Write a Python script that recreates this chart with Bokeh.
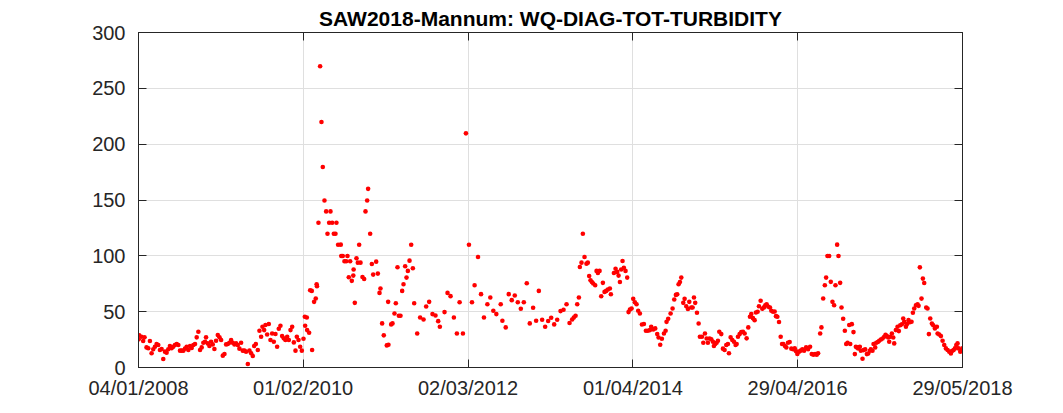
from datetime import datetime

import pandas as pd
from bokeh.plotting import figure, ColumnDataSource
from bokeh.models import Range1d, FixedTicker, DatetimeTickFormatter, DatetimeAxis, LinearAxis
from bokeh.embed import file_html
from bokeh.resources import INLINE

# sample times as decimal years, turbidity in NTU
sample_year = [
    # 2008 - early 2010
    2008.010, 2008.017, 2008.046, 2008.067, 2008.084, 2008.109, 2008.131, 2008.152, 2008.173, 2008.194,
    2008.215, 2008.236, 2008.257, 2008.278, 2008.299, 2008.320, 2008.341, 2008.362, 2008.383, 2008.404,
    2008.425, 2008.446, 2008.467, 2008.489, 2008.510, 2008.531, 2008.552, 2008.573, 2008.594, 2008.615,
    2008.636, 2008.657, 2008.678, 2008.699, 2008.720, 2008.741, 2008.762, 2008.783, 2008.804, 2008.825,
    2008.846, 2008.859, 2008.880, 2008.901, 2008.922, 2008.943, 2008.964, 2008.985, 2009.007, 2009.028,
    2009.049, 2009.070, 2009.091, 2009.112, 2009.133, 2009.154, 2009.175, 2009.196, 2009.217, 2009.238,
    2009.259, 2009.280, 2009.301, 2009.322, 2009.343, 2009.364, 2009.386, 2009.407, 2009.428, 2009.449,
    2009.466, 2009.487, 2009.512, 2009.533, 2009.554, 2009.571, 2009.592, 2009.609, 2009.630, 2009.651,
    2009.672, 2009.693, 2009.714, 2009.735, 2009.756, 2009.777, 2009.798, 2009.819, 2009.840, 2009.861,
    2009.883, 2009.904, 2009.925, 2009.946, 2009.967, 2009.988, 2010.005, 2010.026, 2010.047, 2010.068,
    2010.089, 2010.106, 2010.110, 2010.131, 2010.135, 2010.160, 2010.173,
    # 2010 - 2011 flood
    2010.194, 2010.198, 2010.223, 2010.244, 2010.255, 2010.259, 2010.278, 2010.299, 2010.316, 2010.333,
    2010.354, 2010.375, 2010.392, 2010.413, 2010.430, 2010.451, 2010.472, 2010.493, 2010.505, 2010.526,
    2010.560, 2010.566, 2010.585, 2010.606, 2010.628, 2010.644, 2010.661, 2010.678, 2010.699, 2010.718,
    2010.722, 2010.737, 2010.758, 2010.775, 2010.792, 2010.809, 2010.834, 2010.855, 2010.872, 2010.893,
    2010.905, 2010.931, 2010.952, 2010.969, 2011.007, 2011.028, 2011.049, 2011.061, 2011.082, 2011.103,
    2011.141, 2011.158, 2011.162, 2011.196, 2011.213, 2011.238, 2011.255, 2011.276, 2011.293, 2011.314,
    2011.335, 2011.352, 2011.373, 2011.390, 2011.407, 2011.428, 2011.449, 2011.470, 2011.487, 2011.525,
    2011.562, 2011.605, 2011.638, 2011.676, 2011.718, 2011.756, 2011.790, 2011.811,
    # late 2011 - mid 2013
    2011.870, 2011.908, 2011.946, 2011.988, 2012.026, 2012.060, 2012.102, 2012.140, 2012.178, 2012.216,
    2012.249, 2012.292, 2012.330, 2012.367, 2012.410, 2012.447, 2012.485, 2012.523, 2012.578, 2012.599,
    2012.641, 2012.679, 2012.717, 2012.755, 2012.793, 2012.831, 2012.869, 2012.906, 2012.944, 2012.986,
    2013.024, 2013.058, 2013.100, 2013.138, 2013.176, 2013.214, 2013.252, 2013.290, 2013.332, 2013.370,
    2013.408, 2013.446,
    # mid 2013 - early 2015
    2013.479, 2013.500, 2013.522, 2013.543, 2013.564, 2013.576, 2013.597, 2013.614, 2013.635, 2013.660,
    2013.677, 2013.694, 2013.711, 2013.728, 2013.745, 2013.770, 2013.787, 2013.804, 2013.825, 2013.846,
    2013.867, 2013.888, 2013.909, 2013.930, 2013.955, 2013.968, 2014.006, 2014.027, 2014.048, 2014.065,
    2014.082, 2014.098, 2014.115, 2014.132, 2014.153, 2014.174, 2014.191, 2014.208, 2014.229, 2014.250,
    2014.271, 2014.292, 2014.313, 2014.334, 2014.360, 2014.385, 2014.410, 2014.435, 2014.461, 2014.477,
    2014.503, 2014.528, 2014.553, 2014.570, 2014.591, 2014.612, 2014.638, 2014.659, 2014.671, 2014.692,
    2014.722, 2014.747, 2014.768, 2014.789, 2014.806, 2014.823, 2014.840, 2014.857, 2014.882, 2014.899,
    2014.920, 2014.941, 2014.958, 2014.983, 2015.000, 2015.017, 2015.033, 2015.055, 2015.076, 2015.092,
    2015.118, 2015.135, 2015.156, 2015.177, 2015.193, 2015.215,
    # 2015 - 2016
    2015.236, 2015.257, 2015.269, 2015.286, 2015.303, 2015.320, 2015.337, 2015.362, 2015.383, 2015.404,
    2015.425, 2015.446, 2015.459, 2015.480, 2015.501, 2015.522, 2015.543, 2015.556, 2015.573, 2015.594,
    2015.615, 2015.636, 2015.657, 2015.682, 2015.703, 2015.724, 2015.741, 2015.762, 2015.783, 2015.800,
    2015.821, 2015.838, 2015.859, 2015.880, 2015.901, 2015.918, 2015.935, 2015.956, 2015.977, 2015.994,
    2016.015, 2016.036, 2016.053, 2016.070, 2016.091, 2016.112, 2016.129, 2016.145, 2016.166, 2016.183,
    2016.204, 2016.225, 2016.246, 2016.268, 2016.289, 2016.305, 2016.322, 2016.343, 2016.364, 2016.385,
    2016.407, 2016.432, 2016.457, 2016.482, 2016.503, 2016.524, 2016.545, 2016.566, 2016.583, 2016.609,
    2016.625, 2016.647, 2016.668, 2016.684, 2016.701, 2016.722, 2016.743, 2016.764, 2016.785, 2016.802,
    2016.823, 2016.840, 2016.861, 2016.878, 2016.899, 2016.920, 2016.937, 2016.954, 2016.975, 2016.988,
    # 2017 - 2018
    2017.008, 2017.029, 2017.046, 2017.059, 2017.072, 2017.088, 2017.109, 2017.122, 2017.143, 2017.156,
    2017.177, 2017.198, 2017.215, 2017.236, 2017.248, 2017.269, 2017.282, 2017.303, 2017.316, 2017.337,
    2017.354, 2017.375, 2017.396, 2017.417, 2017.434, 2017.451, 2017.467, 2017.480, 2017.493, 2017.514,
    2017.531, 2017.543, 2017.564, 2017.585, 2017.602, 2017.619, 2017.640, 2017.657, 2017.670, 2017.691,
    2017.703, 2017.724, 2017.741, 2017.762, 2017.779, 2017.796, 2017.817, 2017.838, 2017.851, 2017.867,
    2017.888, 2017.905, 2017.922, 2017.947, 2017.964, 2017.981, 2017.998, 2018.019, 2018.036, 2018.057,
    2018.082, 2018.091, 2018.112, 2018.133, 2018.154, 2018.175, 2018.196, 2018.217, 2018.238, 2018.259,
    2018.272, 2018.293, 2018.310, 2018.327, 2018.343, 2018.356, 2018.377, 2018.398, 2018.404,
]

turbidity = [
    # 2008 - early 2010
    25.2, 28.8, 27.6, 23.7, 27.0, 18.0, 17.2, 23.7, 12.7, 16.3,
    18.6, 21.0, 20.1, 15.7, 16.6, 7.6, 14.2, 13.3, 16.3, 19.2,
    17.2, 18.6, 20.1, 21.0, 20.1, 15.1, 15.1, 15.1, 16.9, 18.6,
    15.7, 19.2, 17.5, 20.1, 21.0, 27.0, 32.0, 15.7, 18.0, 22.2,
    23.1, 27.0, 21.6, 19.2, 23.1, 20.7, 16.6, 24.0, 29.1, 27.0,
    24.6, 10.6, 12.1, 20.7, 21.0, 22.2, 24.6, 22.2, 20.7, 21.6,
    20.1, 16.9, 22.2, 15.1, 15.1, 14.2, 3.2, 15.1, 12.7, 10.3,
    19.2, 21.0, 15.7, 32.9, 27.6, 36.5, 33.5, 38.0, 29.6, 38.9,
    24.6, 30.5, 23.1, 30.0, 18.6, 34.7, 37.4, 28.2, 26.1, 24.6,
    27.6, 24.6, 33.5, 36.5, 22.5, 15.1, 27.6, 24.6, 18.6, 15.1,
    25.8, 45.4, 37.4, 44.8, 33.5, 31.1, 69.2,
    # 2010 - 2011 flood
    68.6, 15.7, 58.8, 61.8, 74.6, 72.8, 129.6, 269.8, 219.8, 179.6,
    149.6, 139.8, 119.8, 129.6, 139.8, 129.6, 119.8, 119.8, 129.6, 110.0,
    110.0, 99.9, 99.9, 95.1, 95.1, 99.9, 80.8, 95.1, 77.6, 82.3,
    87.7, 57.9, 97.8, 93.9, 110.0, 93.9, 81.1, 79.3, 139.8, 149.6,
    160.0, 119.8, 92.7, 83.2, 94.8, 84.1, 66.8, 70.7, 39.5, 28.8,
    19.8, 58.8, 20.4, 38.6, 39.5, 48.4, 57.6, 89.8, 46.3, 46.3,
    68.6, 74.6, 90.6, 80.5, 86.5, 95.7, 110.0, 88.9, 57.6, 30.5,
    44.8, 43.0, 54.6, 58.8, 47.8, 46.6, 41.5, 36.5,
    # late 2011 - mid 2013
    49.6, 66.8, 63.9, 44.8, 30.5, 58.5, 30.5, 209.7, 110.0, 58.5,
    73.7, 99.0, 65.7, 44.8, 56.7, 62.7, 50.8, 47.8, 56.7, 41.8,
    35.9, 65.7, 60.3, 64.5, 58.5, 52.6, 58.5, 75.5, 39.5, 53.5,
    41.8, 68.6, 42.7, 36.5, 41.6, 44.5, 38.6, 42.7, 50.5, 51.7,
    56.7, 39.8,
    # mid 2013 - early 2015
    43.0, 44.8, 46.3, 56.7, 62.7, 90.0, 93.9, 119.8, 99.0, 93.0,
    93.9, 82.0, 78.1, 76.6, 75.2, 73.7, 86.5, 84.7, 86.5, 63.8,
    75.8, 67.7, 68.6, 69.8, 70.7, 65.6, 84.7, 88.5, 85.6, 82.3,
    76.6, 87.7, 95.4, 89.4, 86.5, 80.5, 49.6, 51.9, 52.8, 61.5,
    58.5, 56.7, 50.8, 48.4, 38.5, 38.9, 32.9, 32.9, 33.5, 36.5,
    34.1, 35.0, 29.9, 26.9, 20.4, 25.7, 30.5, 32.9, 40.9, 43.6,
    48.4, 52.8, 60.9, 65.0, 65.6, 74.6, 76.6, 80.5, 57.9, 61.5,
    54.9, 52.5, 58.8, 53.7, 53.7, 62.7, 57.9, 49.0, 39.4, 27.5,
    27.5, 22.2, 30.5, 26.0, 22.2, 26.0,
    # 2015 - 2016
    25.2, 23.1, 19.2, 21.0, 22.2, 24.0, 32.0, 29.9, 16.9, 15.7,
    20.1, 21.0, 12.7, 27.0, 24.6, 23.1, 20.1, 21.0, 27.6, 29.9,
    31.7, 32.0, 30.5, 26.1, 35.9, 45.4, 47.8, 44.2, 42.4, 49.3,
    49.9, 54.9, 59.7, 52.6, 53.8, 55.8, 56.7, 54.4, 53.8, 50.8,
    49.9, 50.2, 46.0, 45.4, 40.7, 27.6, 21.0, 21.0, 19.2, 18.0,
    22.2, 22.8, 16.9, 16.3, 17.2, 14.5, 12.1, 14.2, 15.1, 16.3,
    15.1, 18.0, 16.3, 18.6, 12.1, 11.5, 12.1, 11.5, 12.7, 30.5,
    35.9, 61.8, 73.7, 80.5, 99.9, 99.9, 76.7, 58.8, 55.8, 73.7,
    110.0, 99.9, 75.8, 53.8, 43.6, 32.9, 21.0, 22.2, 38.0, 21.0,
    # 2017 - 2018
    38.8, 31.7, 12.0, 18.6, 18.0, 17.1, 18.6, 15.0, 7.9, 15.6,
    16.2, 12.0, 12.6, 15.0, 16.2, 15.0, 21.0, 18.0, 22.2, 22.8,
    24.0, 25.1, 26.0, 27.5, 29.3, 28.1, 26.9, 23.1, 27.5, 30.5,
    26.9, 21.6, 33.5, 36.5, 32.6, 37.9, 38.8, 43.9, 40.9, 36.5,
    38.8, 42.4, 40.6, 40.9, 49.0, 52.8, 55.8, 56.7, 55.2, 89.7,
    61.7, 79.6, 75.7, 53.7, 52.8, 29.9, 43.9, 39.4, 37.9, 35.0,
    36.5, 30.5, 29.6, 28.1, 24.0, 20.1, 17.1, 15.6, 14.1, 12.6,
    14.7, 15.6, 17.1, 20.1, 21.6, 17.1, 14.1, 15.6, 17.1,
]

x_tick_dates = ["2008-01-04", "2010-02-01", "2012-03-02", "2014-04-01", "2016-04-29", "2018-05-29"]
y_ticks = [0, 50, 100, 150, 200, 250, 300]


def from_decimal_year(dy):
    yr = int(dy)
    start = datetime(yr, 1, 1)
    return start + (datetime(yr + 1, 1, 1) - start) * (dy - yr)


source = ColumnDataSource(data=dict(
    date=[from_decimal_year(d) for d in sample_year],
    turbidity=turbidity,
))

x_ticks_ms = [float(v) for v in pd.to_datetime(x_tick_dates).astype("int64") // 10**6]
x_ticker = FixedTicker(ticks=x_ticks_ms)
y_ticker = FixedTicker(ticks=y_ticks)
date_fmt = "%d/%m/%Y"
x_formatter = DatetimeTickFormatter(
    milliseconds=date_fmt, seconds=date_fmt, minsec=date_fmt, minutes=date_fmt,
    hourmin=date_fmt, hours=date_fmt, days=date_fmt, months=date_fmt, years=date_fmt,
    strip_leading_zeros=False,
)

FONT = "Liberation Sans"
INK = "#262626"

p = figure(width=1063, height=413, x_axis_type="datetime",
           x_range=Range1d(pd.Timestamp(x_tick_dates[0]), pd.Timestamp(x_tick_dates[-1])),
           y_range=Range1d(0, 300),
           output_backend="svg", toolbar_location=None,
           min_border_left=138, min_border_right=101, min_border_top=32, min_border_bottom=46)

p.title.text = "SAW2018-Mannum: WQ-DIAG-TOT-TURBIDITY"
p.title.align = "center"
p.title.text_font = FONT
p.title.text_font_size = "21px"
p.title.text_font_style = "bold"
p.title.text_color = "black"
p.title.standoff = 5

p.outline_line_color = INK
p.outline_line_width = 1

p.scatter("date", "turbidity", source=source, size=4.6, color="#ff0000", line_color=None)

for ax in (p.xaxis[0], p.yaxis[0]):
    ax.axis_line_color = INK
    ax.major_tick_line_color = INK
    ax.major_tick_in = 8
    ax.major_tick_out = 0
    ax.minor_tick_line_color = None
    ax.major_label_text_font = FONT
    ax.major_label_text_font_size = "20px"
    ax.major_label_text_color = INK

p.xaxis[0].ticker = x_ticker
p.xaxis[0].formatter = x_formatter
p.xaxis[0].major_label_standoff = 9
p.yaxis[0].ticker = y_ticker
p.yaxis[0].major_label_standoff = 13

# box ticks on top and right, labels not drawn
top_axis = DatetimeAxis(ticker=x_ticker, formatter=x_formatter)
right_axis = LinearAxis(ticker=y_ticker)
for ax in (top_axis, right_axis):
    ax.axis_line_color = INK
    ax.major_tick_line_color = INK
    ax.major_tick_in = 8
    ax.major_tick_out = 0
    ax.minor_tick_line_color = None
    ax.major_label_text_font_size = "1px"
    ax.major_label_text_color = None
    ax.major_label_standoff = 0
p.add_layout(top_axis, "above")
p.add_layout(right_axis, "right")

p.xgrid.ticker = x_ticker
p.ygrid.ticker = y_ticker
p.xgrid.grid_line_color = "#dfdfdf"
p.ygrid.grid_line_color = "#dfdfdf"

open("out.html", "w").write(file_html(p, INLINE))
